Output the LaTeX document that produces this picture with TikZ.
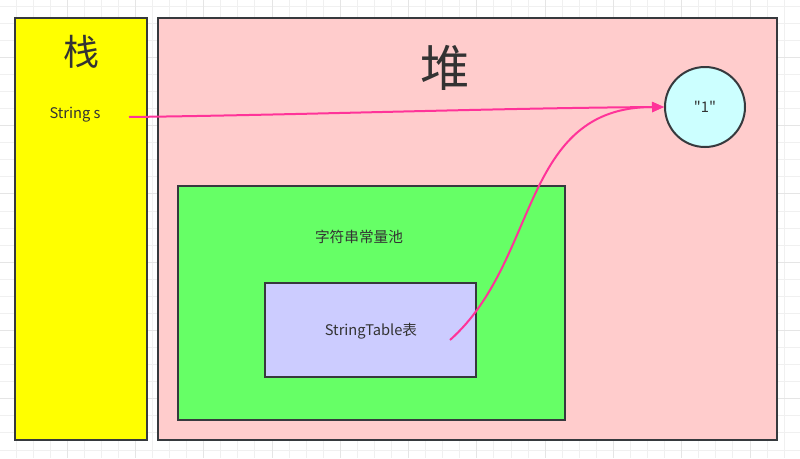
\documentclass[tikz,border=0pt]{standalone}
\usepackage{fontspec}
\setmainfont{Noto Sans CJK SC}
\newfontfamily\valfont{Noto Sans CJK SC}[Ligatures=TeXOff]
\usetikzlibrary{arrows.meta}
\definecolor{edgegray}{HTML}{36393D}
\definecolor{txtgray}{HTML}{333333}
\definecolor{stackfill}{HTML}{FFFF00}
\definecolor{heapfill}{HTML}{FFCCCC}
\definecolor{poolfill}{HTML}{66FF66}
\definecolor{tablefill}{HTML}{CCCCFF}
\definecolor{valfill}{HTML}{CCFFFF}
\definecolor{refpink}{HTML}{FF3399}
\tikzset{x=0.75pt,y=-0.75pt,
    area/.style 2 args={draw=edgegray,line width=1.5pt,inner sep=0pt,
        minimum width=#1*0.75pt,minimum height=#2*0.75pt},
    txt/.style={text=txtgray,inner sep=0pt,font=\fontsize{11pt}{13pt}\selectfont},
    bigtxt/.style={text=txtgray,inner sep=0pt,font=\fontsize{#1}{#1}\selectfont},
    ref/.style={draw=refpink,line width=1.5pt,-{Triangle[length=9pt,width=7.5pt]}},
    gridminor/.style={draw=black!6,line width=0.75pt},
    gridmajor/.style={draw=black!10,line width=0.75pt},
    }
\begin{document}
\begin{tikzpicture}
\useasboundingbox (0,0) rectangle (800,458);
% background grid
\foreach \i in {0,...,47} \draw[gridminor] ({-1.07+17.07*\i},0) -- ++(0,458);
\foreach \i in {0,...,26} \draw[gridminor] (0,{6.2+17.07*\i}) -- ++(800,0);
\foreach \i in {4,8,...,44} \draw[gridmajor] ({-1.07+17.07*\i},0) -- ++(0,458);
\foreach \i in {3,7,...,23} \draw[gridmajor] (0,{6.2+17.07*\i}) -- ++(800,0);
% stack and heap
\node[area={132}{422},fill=stackfill] (stack) at (81,229) {};
\node[area={619}{422},fill=heapfill] (heap) at (467.5,229) {};
\node[area={387}{234},fill=poolfill] (pool) at (371.5,303) {};
\node[area={211}{94},fill=tablefill] (table) at (370.5,330) {};
\node[draw=edgegray,line width=1.5pt,circle,minimum size=60pt,inner sep=0pt,
    fill=valfill,txt] (strval) at (705,107) {\valfont "1"};
\node[bigtxt=27pt] (stacklbl) at (81,52) {栈};
\node[bigtxt=37pt] (heaplbl) at (445,68) {堆};
\node[txt] (strs) at (75,115) {String s};
\node[txt] (poollbl) at (359,237) {字符串常量池};
\node[txt] (tablelbl) at (371,331) {StringTable表};
\coordinate (sref) at (129,117);
\coordinate (tref) at (450,340);
\draw[ref] (sref) .. controls (300,115) and (500,108) .. (strval.west);
\draw[ref] (tref) .. controls (540,260) and (520,107) .. (strval.west);
\end{tikzpicture}
\end{document}
